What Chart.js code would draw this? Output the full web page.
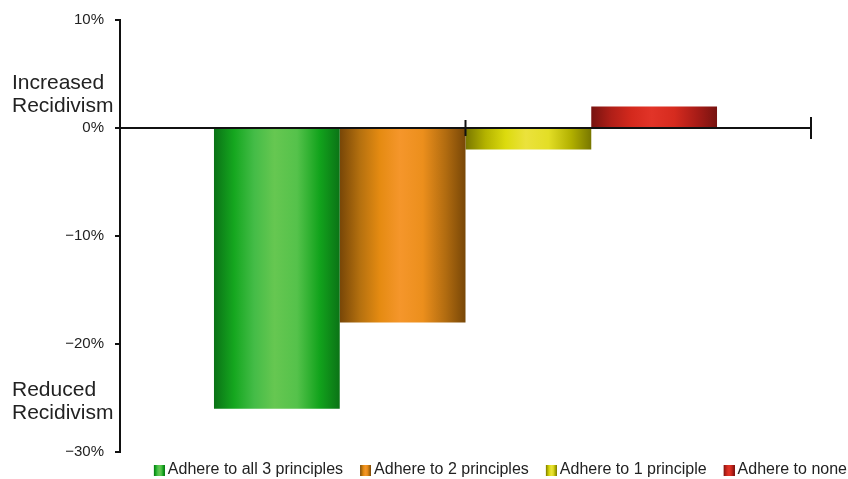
<!DOCTYPE html>
<html>
<head>
<meta charset="utf-8">
<script src="https://cdn.jsdelivr.net/npm/chart.js@4/dist/chart.umd.min.js"></script>
<style>
  html, body { margin: 0; padding: 0; background: #fff; }
  #wrap { width: 848px; height: 479px; }
</style>
</head>
<body>
<div id="wrap"><canvas id="c" width="848" height="479"></canvas></div>
<script>
// Change in recidivism by number of principles a program adheres to
const categories = [''];
const seriesLabels = [
  'Adhere to all 3 principles',
  'Adhere to 2 principles',
  'Adhere to 1 principle',
  'Adhere to none'
];
const allThree = [-26];
const twoPrinciples = [-18];
const onePrinciple = [-2];
const noPrinciples = [2];
const yTicks = [10, 0, -10, -20, -30];

// Cylinder-style shading for each series: [offset, colour]
const shades = [
  [[0, '#0a7216'], [0.16, '#15a71f'], [0.32, '#44bc47'], [0.48, '#66c751'], [0.66, '#55c24b'], [0.84, '#12a31c'], [1, '#0b7316']],
  [[0, '#774607'], [0.16, '#b4700f'], [0.32, '#e58b12'], [0.48, '#f5962b'], [0.66, '#ec8f1c'], [0.84, '#b26c10'], [1, '#784707']],
  [[0, '#787600'], [0.16, '#b4b300'], [0.32, '#dcdb0e'], [0.48, '#ebe23c'], [0.66, '#e3de26'], [0.84, '#b2b000'], [1, '#787700']],
  [[0, '#771310'], [0.16, '#b01f18'], [0.32, '#d4291d'], [0.48, '#e23428'], [0.66, '#d62b1f'], [0.84, '#a81c17'], [1, '#771310']]
];

const FONT = '"Liberation Sans", Arial, Helvetica, sans-serif';
Chart.defaults.font.family = FONT;
Chart.defaults.color = '#222';

function paintGradient(ctx, x0, x1, stops) {
  const g = ctx.createLinearGradient(x0, 0, x1, 0);
  stops.forEach(([o, c]) => g.addColorStop(o, c));
  return g;
}

// Legend swatches: 11px square on the right of a wider transparent canvas
const legendIcons = shades.map(stops => {
  const cv = document.createElement('canvas');
  cv.width = 23; cv.height = 11;
  const cx = cv.getContext('2d');
  cx.fillStyle = paintGradient(cx, 12, 23, stops);
  cx.fillRect(12, 0, 11, 11);
  return cv;
});

const shadeBars = {
  id: 'shadeBars',
  beforeDatasetsDraw(chart) {
    const ctx = chart.ctx;
    chart.data.datasets.forEach((ds, i) => {
      const meta = chart.getDatasetMeta(i);
      meta.data.forEach(el => {
        const half = el.width / 2;
        el.options.backgroundColor = paintGradient(ctx, el.x - half, el.x + half, shades[i]);
      });
    });
  }
};

const axisMarks = {
  id: 'axisMarks',
  afterDatasetsDraw(chart) {
    const {ctx, scales: {x, y}} = chart;
    const y0 = y.getPixelForValue(0);
    ctx.save();
    ctx.strokeStyle = '#111';
    ctx.lineWidth = 2;
    // axis line redrawn over the bars
    ctx.beginPath();
    ctx.moveTo(x.left, y0);
    ctx.lineTo(x.right, y0);
    ctx.stroke();
    const marks = [[x.getPixelForValue(0), 8], [x.right, 11]];
    marks.forEach(([px, h]) => {
      ctx.beginPath();
      ctx.moveTo(px, y0 - h);
      ctx.lineTo(px, y0 + h);
      ctx.stroke();
    });
    ctx.restore();
  }
};

const sideNotes = {
  id: 'sideNotes',
  afterDraw(chart) {
    const {ctx, scales: {y}} = chart;
    const y0 = y.getPixelForValue(0);
    const yLow = y.getPixelForValue(-30);
    ctx.save();
    ctx.font = '21px ' + FONT;
    ctx.fillStyle = '#222';
    ctx.textAlign = 'left';
    ctx.textBaseline = 'alphabetic';
    ctx.fillText('Increased', 12, y0 - 39);
    ctx.fillText('Recidivism', 12, y0 - 16);
    ctx.fillText('Reduced', 12, yLow - 56);
    ctx.fillText('Recidivism', 12, yLow - 33);
    ctx.restore();
  }
};

const seriesValues = [allThree, twoPrinciples, onePrinciple, noPrinciples];

new Chart(document.getElementById('c'), {
  type: 'bar',
  data: {
    labels: categories,
    datasets: seriesValues.map((vals, i) => ({
      label: seriesLabels[i],
      data: vals,
      backgroundColor: shades[i][3][1],
      borderWidth: 0,
      categoryPercentage: 0.728,
      barPercentage: 1
    }))
  },
  options: {
    responsive: false,
    animation: false,
    layout: { padding: { left: 0, right: -9, top: 19, bottom: 0 } },
    plugins: {
      tooltip: { enabled: false },
      legend: {
        position: 'bottom',
        align: 'end',
        maxHeight: 27,
        labels: {
          usePointStyle: true,
          boxWidth: 13,
          boxHeight: 11,
          padding: 10,
          color: '#222',
          font: { size: 16, family: FONT },
          generateLabels(chart) {
            return chart.data.datasets.map((ds, i) => ({
              text: ds.label,
              pointStyle: legendIcons[i],
              fillStyle: 'rgba(0,0,0,0)',
              strokeStyle: 'rgba(0,0,0,0)',
              lineWidth: 0,
              fontColor: '#222',
              hidden: !chart.isDatasetVisible(i),
              datasetIndex: i
            }));
          }
        }
      }
    },
    scales: {
      x: {
        type: 'category',
        position: { y: 0 },
        grid: { display: false },
        border: { display: true, color: '#111', width: 2 },
        ticks: { display: false }
      },
      y: {
        type: 'linear',
        position: 'left',
        min: -30,
        max: 10,
        afterBuildTicks(scale) {
          scale.ticks = yTicks.map(v => ({ value: v }));
        },
        afterFit(scale) { scale.width = 120; },
        grid: {
          drawOnChartArea: false,
          drawTicks: true,
          tickLength: 5,
          color: '#111',
          lineWidth: 2
        },
        border: { display: true, color: '#111', width: 2 },
        ticks: {
          padding: 11,
          color: '#222',
          font: { size: 15, family: FONT },
          callback: v => (v < 0 ? '\u2212' + Math.abs(v) : String(v)) + '%'
        }
      },
      yRight: {
        type: 'linear',
        position: 'right',
        display: true,
        min: -30,
        max: 10,
        grid: { display: false },
        border: { display: false },
        ticks: { display: false },
        afterFit(scale) { scale.width = 46; }
      }
    }
  },
  plugins: [shadeBars, axisMarks, sideNotes]
});
</script>
</body>
</html>
